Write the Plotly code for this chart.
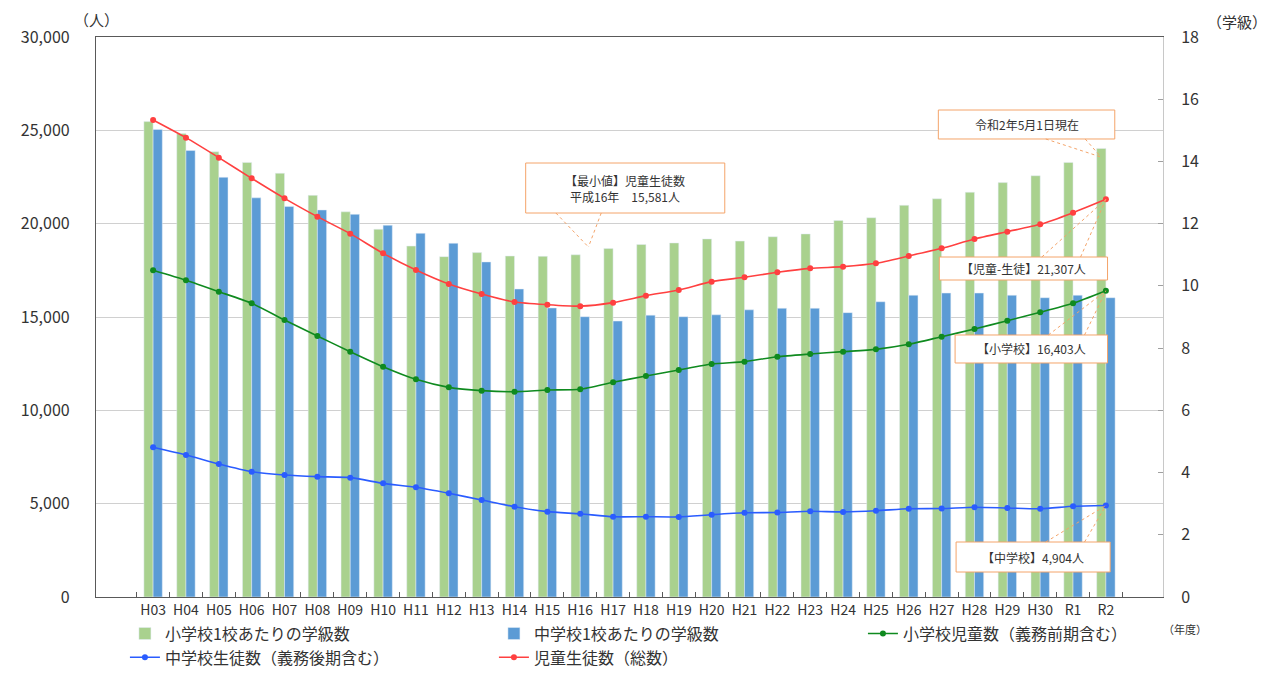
import plotly.graph_objects as go

# 年度
years = ["H03", "H04", "H05", "H06", "H07", "H08", "H09", "H10", "H11", "H12",
         "H13", "H14", "H15", "H16", "H17", "H18", "H19", "H20", "H21", "H22",
         "H23", "H24", "H25", "H26", "H27", "H28", "H29", "H30", "R1", "R2"]

# 1校あたりの学級数 (right axis)
elem_classes = [15.28, 14.90, 14.31, 13.97, 13.62, 12.91, 12.38, 11.82, 11.28, 10.94,
                11.07, 10.96, 10.95, 11.00, 11.20, 11.33, 11.38, 11.51, 11.44, 11.58,
                11.67, 12.10, 12.19, 12.59, 12.80, 13.01, 13.32, 13.54, 13.97, 14.42]
junior_classes = [15.03, 14.35, 13.49, 12.83, 12.55, 12.44, 12.30, 11.95, 11.69, 11.37,
                  10.77, 9.90, 9.29, 9.01, 8.87, 9.06, 9.01, 9.07, 9.23, 9.28,
                  9.28, 9.14, 9.49, 9.70, 9.77, 9.77, 9.70, 9.62, 9.70, 9.62]

# 児童生徒数 (left axis)
elem_students = [17500, 16964, 16357, 15732, 14839, 13982, 13143, 12339, 11661, 11232,
                 11054, 11000, 11089, 11125, 11500, 11839, 12161, 12482, 12607, 12875,
                 13018, 13143, 13268, 13536, 13946, 14357, 14804, 15250, 15732, 16403]
junior_students = [8020, 7607, 7125, 6714, 6536, 6446, 6393, 6089, 5875, 5554,
                   5196, 4839, 4571, 4456, 4300, 4300, 4290, 4410, 4510, 4530,
                   4590, 4560, 4620, 4730, 4740, 4810, 4770, 4730, 4860, 4904]
total_students = [25554, 24607, 23536, 22429, 21357, 20375, 19464, 18411, 17518, 16768,
                  16232, 15804, 15661, 15581, 15768, 16143, 16446, 16893, 17125, 17393,
                  17607, 17696, 17875, 18268, 18679, 19179, 19571, 19964, 20589, 21307]

FONT = "Noto Sans CJK JP"
ORANGE = "#f4a46a"

fig = go.Figure()
fig.add_trace(go.Bar(x=years, y=elem_classes, name="小学校1校あたりの学級数",
                     marker_color="#a9d18e", yaxis="y"))
fig.add_trace(go.Bar(x=years, y=junior_classes, name="中学校1校あたりの学級数",
                     marker_color="#5b9bd5", yaxis="y"))
fig.add_trace(go.Scatter(x=years, y=elem_students, name="小学校児童数（義務前期含む）",
                         mode="lines+markers", line=dict(color="#0f8a1f", width=1.6, shape="spline", smoothing=0.6),
                         marker=dict(size=6), yaxis="y2"))
fig.add_trace(go.Scatter(x=years, y=junior_students, name="中学校生徒数（義務後期含む）",
                         mode="lines+markers", line=dict(color="#2a5cff", width=1.6, shape="spline", smoothing=0.6),
                         marker=dict(size=6), yaxis="y2"))
fig.add_trace(go.Scatter(x=years, y=total_students, name="児童生徒数（総数）",
                         mode="lines+markers", line=dict(color="#ff4040", width=1.6, shape="spline", smoothing=0.6),
                         marker=dict(size=6), yaxis="y2"))

# callouts: box (x0, x1, y0, y1), pointer base xs, base y, tip, text
callouts = [
    ((23.90, 29.27, 24536, 26089), (27.17, 28.37), 24536, (28.85, 23571), "令和2年5月1日現在"),
    ((11.34, 17.40, 20571, 23250), (12.26, 13.64), 20571, (13.25, 18750), "【最小値】児童生徒数<br>平成16年　15,581人"),
    ((23.93, 29.05, 16982, 18214), (27.05, 28.23), 18214, (29, total_students[-1]), "【児童-生徒】21,307人"),
    ((24.41, 29.05, 12536, 14036), (27.25, 28.35), 14036, (29, elem_students[-1]), "【小学校】16,403人"),
    ((24.44, 29.13, 1339, 2946), (27.17, 28.35), 2946, (29, junior_students[-1]), "【中学校】4,904人"),
]
for (x0, x1, y0, y1), bases, by, tip, text in callouts:
    fig.add_shape(type="rect", xref="x", yref="y2", x0=x0, x1=x1, y0=y0, y1=y1,
                  fillcolor="white", line=dict(color=ORANGE, width=1), layer="above")
    for bx in bases:
        fig.add_shape(type="line", xref="x", yref="y2", x0=bx, y0=by, x1=tip[0], y1=tip[1],
                      line=dict(color=ORANGE, width=1, dash="dot"), layer="above")
    fig.add_annotation(x=(x0 + x1) / 2, y=(y0 + y1) / 2, xref="x", yref="y2", text=text,
                       showarrow=False, font=dict(size=12, color="#333333", family=FONT))

# axis unit labels
fig.add_annotation(x=0.0, y=1.0, xref="paper", yref="paper", text="（人）", showarrow=False,
                   xanchor="center", yanchor="bottom", yshift=5, font=dict(size=15, family=FONT))
fig.add_annotation(x=1.069, y=1.0, xref="paper", yref="paper", text="（学級）", showarrow=False,
                   xanchor="center", yanchor="bottom", yshift=3, font=dict(size=15, family=FONT))
fig.add_annotation(x=1.021, y=0, xref="paper", yref="paper", text="（年度）", showarrow=False,
                   xanchor="center", yanchor="top", yshift=-22, font=dict(size=11, family=FONT))

# the page body adds an 8px offset, so the figure is 8px smaller than the window
fig.update_layout(
    width=1272, height=669, autosize=False,
    margin=dict(l=88, r=117, t=29, b=80, autoexpand=False),
    paper_bgcolor="white", plot_bgcolor="white",
    font=dict(family=FONT, color="#333333"),
    barmode="group", bargap=0.44, bargroupgap=0,
    xaxis=dict(type="category", tickson="boundaries", ticks="inside", ticklen=5, tickcolor="#595959",
               showline=True, mirror=True, linecolor="#595959", linewidth=1.2, tickangle=0,
               tickfont=dict(size=14, color="#333333"), showgrid=False),
    yaxis=dict(side="right", range=[0, 18], dtick=2, showgrid=False, zeroline=False,
               showline=True, linecolor="#c8c8c8", ticks="inside", ticklen=5, tickcolor="#a0a0a0",
               ticklabelstandoff=14, tickfont=dict(size=16, color="#333333")),
    yaxis2=dict(overlaying="y", side="left", range=[0, 30000], dtick=5000, tickformat=",",
                showgrid=True, gridcolor="#d0d0d0", zeroline=False, showline=True,
                linecolor="#595959", linewidth=1.2, ticklabelstandoff=22,
                tickfont=dict(size=16, color="#333333")),
    legend=dict(orientation="h", x=-0.001, xanchor="left", y=-0.035, yanchor="top",
                indentation=30, entrywidth=294, font=dict(size=16, color="#333333"),
                bgcolor="rgba(0,0,0,0)", traceorder="normal", tracegroupgap=0),
    showlegend=True,
)

fig.write_html("out.html")
